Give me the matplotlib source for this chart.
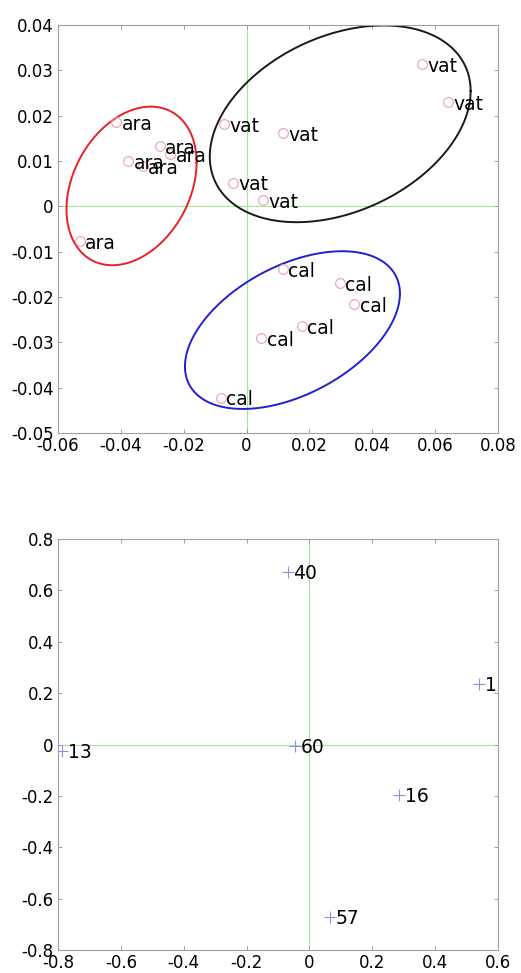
import numpy as np
import matplotlib
matplotlib.use("Agg")
import matplotlib.pyplot as plt
from matplotlib.ticker import FuncFormatter

plt.rcParams['font.family'] = ['DejaVu Sans']
plt.rcParams['axes.unicode_minus'] = False

# top plot: samples
ara_x = [-0.0414, -0.0276, -0.0242, -0.0377, -0.0331, -0.0531]
ara_y = [0.0185, 0.0133, 0.0115, 0.0100, 0.0088, -0.0077]
vat_x = [0.0558, 0.0642, -0.0072, 0.0117, -0.0044, 0.0053]
vat_y = [0.0313, 0.0230, 0.0181, 0.0161, 0.0052, 0.0013]
cal_x = [0.0115, 0.0297, 0.0342, 0.0175, 0.0046, -0.0082]
cal_y = [-0.0139, -0.0170, -0.0216, -0.0265, -0.0291, -0.0422]

# group ellipses: centre x, centre y, half width, half height, tilt phase
ell_names = ["ara", "vat", "cal"]
ell_cx = [-0.0366, 0.0298, 0.0146]
ell_cy = [0.0045, 0.0182, -0.0273]
ell_rx = [0.0207, 0.0415, 0.0342]
ell_ry = [0.0175, 0.0217, 0.0174]
ell_phi = [0.30, 0.34, 0.48]
ell_col = ["#e8202a", "#1a1a1a", "#2020d0"]

# bottom plot: variables
var_labels = ["40", "17", "60", "13", "16", "57"]
var_x = [-0.069, 0.540, -0.045, -0.787, 0.286, 0.067]
var_y = [0.673, 0.234, -0.006, -0.026, -0.197, -0.670]


def fmt(v, pos):
    if abs(v) < 1e-9:
        return "0"
    return "%g" % round(v, 6)


def style_axes(ax):
    for s in ax.spines.values():
        s.set_color("#a0a0a0")
        s.set_linewidth(0.8)
    ax.tick_params(direction="in", length=3, width=0.6, color="#909090",
                   top=True, right=True, labelsize=12, pad=3)
    ax.xaxis.set_major_formatter(FuncFormatter(fmt))
    ax.yaxis.set_major_formatter(FuncFormatter(fmt))
    ax.axhline(0, color="#a8e4a0", lw=0.8, zorder=0)
    ax.axvline(0, color="#a8e4a0", lw=0.8, zorder=0)


fig = plt.figure(figsize=(5.21, 9.73), dpi=100)

ax1 = fig.add_axes([0.1113, 0.555, 0.8445, 0.4193])
style_axes(ax1)
ax1.set_xlim(-0.06, 0.08)
ax1.set_ylim(-0.05, 0.04)
ax1.set_xticks(np.arange(-0.06, 0.081, 0.02))
ax1.set_yticks(np.arange(-0.05, 0.041, 0.01))

t = np.linspace(0, 2 * np.pi, 300)
for cx, cy, rx, ry, ph, c in zip(ell_cx, ell_cy, ell_rx, ell_ry, ell_phi, ell_col):
    ax1.plot(cx + rx * np.cos(t), cy + ry * np.sin(t + ph), color=c, lw=1.4)

for xs, ys, name in [(ara_x, ara_y, "ara"), (vat_x, vat_y, "vat"), (cal_x, cal_y, "cal")]:
    ax1.plot(xs, ys, "o", mfc="none", mec="#e8a0a8", ms=7, mew=0.8)
    for x, y in zip(xs, ys):
        ax1.annotate(name, (x, y), xytext=(4, -1.5), textcoords="offset points",
                     ha="left", va="center", fontsize=13.5)

ax2 = fig.add_axes([0.1113, 0.0236, 0.8445, 0.4224])
style_axes(ax2)
ax2.set_xlim(-0.8, 0.6)
ax2.set_ylim(-0.8, 0.8)
ax2.set_xticks(np.arange(-0.8, 0.61, 0.2))
ax2.set_yticks(np.arange(-0.8, 0.81, 0.2))

ax2.plot(var_x, var_y, "+", color="#9090e0", ms=8, mew=0.8)
for lab, x, y in zip(var_labels, var_x, var_y):
    ax2.annotate(lab, (x, y), xytext=(4, -1), textcoords="offset points",
                 ha="left", va="center", fontsize=13.5, clip_on=True)

fig.savefig("out.png", dpi=100)
